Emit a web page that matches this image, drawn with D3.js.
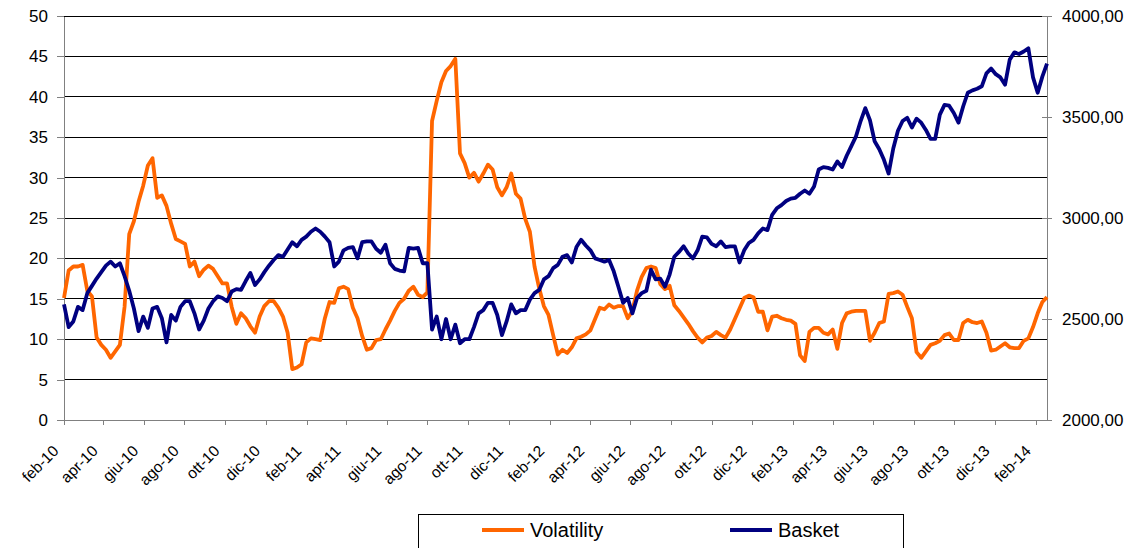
<!DOCTYPE html>
<html>
<head>
<meta charset="utf-8">
<script src="https://cdn.jsdelivr.net/npm/d3@7"></script>
<style>
  html, body { margin: 0; padding: 0; background: #fff; }
  svg { display: block; font-family: "Liberation Sans", Arial, sans-serif; }
  .axis path, .axis line { stroke: #808080; }
  .axis text { fill: #000; }
</style>
</head>
<body>
<svg id="chart" width="1138" height="548"></svg>
<script>
// weekly observations, first one on 1 feb 2010
const startDate = new Date(2010, 1, 1);
const monthNames = ["gen", "feb", "mar", "apr", "mag", "giu", "lug", "ago", "set", "ott", "nov", "dic"];
const volTicks = [0, 5, 10, 15, 20, 25, 30, 35, 40, 45, 50];
const basketTicks = [2000, 2500, 3000, 3500, 4000];
const seriesNames = ["Volatility", "Basket"];

const volatility = [
  15.1, 18.5, 19, 19, 19.2, 16, 15.3, 10.2, 9.3, 8.7,
  7.7, 8.5, 9.3, 14, 23, 24.6, 27, 29, 31.5, 32.4,
  27.5, 27.8, 26.5, 24.3, 22.4, 22.1, 21.8, 19, 19.6, 17.8,
  18.6, 19.1, 18.7, 17.8, 16.9, 16.9, 14, 11.9, 13.2, 12.6,
  11.6, 10.8, 12.8, 14.1, 14.7, 14.7, 13.9, 12.8, 10.8, 6.3,
  6.5, 6.9, 9.6, 10.1, 10, 9.9, 12.6, 14.6, 14.5, 16.3,
  16.5, 16.2, 13.9, 12.6, 10.4, 8.7, 8.9, 9.9, 10, 11.2,
  12.3, 13.5, 14.5, 15, 16, 16.5, 15.5, 15.2, 15.8, 37,
  39.5, 41.8, 43.2, 43.8, 44.7, 33, 31.8, 30, 30.6, 29.5,
  30.5, 31.6, 31, 28.8, 27.8, 28.8, 30.5, 28, 27.4, 24.9,
  23.3, 19, 16.3, 14.1, 13, 10.5, 8.1, 8.7, 8.3, 9,
  10.1, 10.3, 10.6, 11.1, 12.5, 13.9, 13.7, 14.3, 13.9, 14.1,
  14.1, 12.6, 13.5, 16, 17.7, 18.8, 19, 18.8, 16.8, 16.2,
  16.6, 14.2, 13.5, 12.7, 11.9, 11, 10.2, 9.6, 10.2, 10.4,
  10.9, 10.5, 10.2, 11.2, 12.5, 13.8, 15.1, 15.4, 15.2, 13.4,
  13.4, 11.1, 12.8, 12.9, 12.6, 12.4, 12.3, 11.9, 8, 7.3,
  10.9, 11.4, 11.4, 10.8, 10.6, 11.2, 8.8, 12, 13.2, 13.4,
  13.5, 13.5, 13.5, 9.8, 10.8, 12, 12.2, 15.6, 15.7, 15.9,
  15.5, 14, 12.6, 8.4, 7.7, 8.5, 9.3, 9.5, 9.8, 10.5,
  10.7, 9.9, 9.9, 12, 12.4, 12.1, 12, 12.2, 10.8, 8.6,
  8.7, 9.1, 9.5, 9, 8.9, 8.9, 9.8, 10.1, 11.5, 13.2,
  14.6, 15.2
];

const basket = [
  2572, 2460, 2488, 2560, 2544, 2628, 2664, 2700, 2732, 2764,
  2784, 2760, 2776, 2712, 2640, 2552, 2440, 2512, 2456, 2552,
  2560, 2504, 2384, 2520, 2492, 2560, 2588, 2588, 2528, 2448,
  2492, 2552, 2588, 2612, 2604, 2588, 2636, 2648, 2644, 2688,
  2728, 2668, 2696, 2732, 2764, 2792, 2816, 2808, 2844, 2880,
  2860, 2892, 2908, 2932, 2948, 2932, 2908, 2880, 2760, 2784,
  2840, 2852, 2856, 2800, 2880, 2884, 2884, 2848, 2828, 2868,
  2776, 2748, 2740, 2736, 2852, 2848, 2852, 2776, 2776, 2448,
  2512, 2400, 2500, 2400, 2472, 2380, 2400, 2400, 2460, 2528,
  2544, 2580, 2580, 2520, 2420, 2488, 2572, 2528, 2544, 2544,
  2596, 2628, 2644, 2696, 2712, 2752, 2768, 2808, 2816, 2780,
  2856, 2892, 2864, 2840, 2800, 2792, 2784, 2792, 2736, 2660,
  2580, 2604, 2528, 2604, 2628, 2640, 2744, 2696, 2700, 2660,
  2720, 2808, 2832, 2860, 2824, 2800, 2840, 2908, 2904, 2872,
  2860, 2884, 2856, 2860, 2860, 2780, 2840, 2876, 2892, 2924,
  2948, 2940, 3016, 3048, 3064, 3084, 3096, 3100, 3120, 3136,
  3120, 3156, 3240, 3252, 3248, 3240, 3280, 3252, 3308, 3356,
  3404, 3480, 3544, 3484, 3380, 3340, 3288, 3220, 3344, 3432,
  3480, 3496, 3448, 3492, 3472, 3436, 3392, 3392, 3512, 3560,
  3556, 3520, 3472, 3552, 3620, 3632, 3640, 3652, 3716, 3740,
  3712, 3696, 3660, 3784, 3820, 3812, 3824, 3840, 3696, 3620,
  3700, 3764
];

const dates = volatility.map((d, i) => d3.timeDay.offset(startDate, 7 * i));

const svg = d3.select("#chart");
const plot = { left: 64, right: 1047, top: 16, bottom: 420 };

const x = d3.scaleTime().domain([dates[0], dates[dates.length - 1]]).range([plot.left, plot.right]);
const yVol = d3.scaleLinear().domain([0, 50]).range([plot.bottom, plot.top]);
const yBasket = d3.scaleLinear().domain([2000, 4000]).range([plot.bottom, plot.top]);

const fmtDate = d => monthNames[d.getMonth()] + "-" + String(d.getFullYear()).slice(2);
const fmtBasket = d => d.toFixed(2).replace(".", ",");

// horizontal gridlines
svg.append("g")
  .selectAll("line")
  .data(volTicks.slice(1))
  .join("line")
  .attr("x1", plot.left).attr("x2", plot.right)
  .attr("y1", d => yVol(d)).attr("y2", d => yVol(d))
  .attr("stroke", "#000")
  .attr("stroke-width", 1)
  .attr("shape-rendering", "crispEdges");

// left axis
svg.append("g")
  .attr("class", "axis axis-left")
  .attr("transform", `translate(${plot.left},0)`)
  .call(d3.axisLeft(yVol).tickValues(volTicks).tickSize(7).tickSizeOuter(0).tickPadding(9))
  .call(g => g.selectAll("text").attr("font-size", 17))
  .call(g => g.selectAll("path, line").attr("shape-rendering", "crispEdges"));

// right axis (ticks cross the line)
const rightAxis = svg.append("g")
  .attr("class", "axis axis-right")
  .attr("transform", `translate(${plot.right},0)`)
  .call(d3.axisRight(yBasket).tickValues(basketTicks).tickFormat(fmtBasket).tickSize(5).tickSizeOuter(0).tickPadding(10))
  .call(g => g.selectAll("text").attr("font-size", 17))
  .call(g => g.selectAll("path, line").attr("shape-rendering", "crispEdges"));
rightAxis.selectAll(".tick line").attr("x1", -5);

// bottom axis
const xTicks = d3.timeMonth.range(new Date(2010, 1, 1), new Date(2014, 2, 1), 2);
svg.append("g")
  .attr("class", "axis axis-x")
  .attr("transform", `translate(0,${plot.bottom})`)
  .call(d3.axisBottom(x).tickValues(xTicks).tickFormat(fmtDate).tickSize(5).tickSizeOuter(0))
  .call(g => g.selectAll("path, line").attr("shape-rendering", "crispEdges"))
  .call(g => g.selectAll(".tick text")
    .attr("font-size", 15.5)
    .attr("text-anchor", "end")
    .attr("dy", 0)
    .attr("y", 0)
    .attr("transform", "translate(-5,32) rotate(-45)"));

// series
const volLine = d3.line()
  .x((d, i) => x(dates[i]))
  .y(d => yVol(d));
const basketLine = d3.line()
  .x((d, i) => x(dates[i]))
  .y(d => yBasket(d));

svg.append("path")
  .datum(volatility)
  .attr("fill", "none")
  .attr("stroke", "#ff6600")
  .attr("stroke-width", 3.8)
  .attr("stroke-linejoin", "round")
  .attr("d", volLine);

svg.append("path")
  .datum(basket)
  .attr("fill", "none")
  .attr("stroke", "#000080")
  .attr("stroke-width", 3.8)
  .attr("stroke-linejoin", "round")
  .attr("d", basketLine);

// legend
const legend = svg.append("g").attr("transform", "translate(418,514)");
legend.append("rect")
  .attr("x", 0.5).attr("y", 0.5)
  .attr("width", 485).attr("height", 50)
  .attr("fill", "#fff")
  .attr("stroke", "#000");

const legendItems = [
  { name: seriesNames[0], color: "#ff6600", x: 64 },
  { name: seriesNames[1], color: "#000080", x: 312 }
];
const item = legend.selectAll("g.item")
  .data(legendItems)
  .join("g")
  .attr("class", "item")
  .attr("transform", d => `translate(${d.x},16)`);
item.append("line")
  .attr("x1", 0).attr("x2", 42)
  .attr("stroke", d => d.color)
  .attr("stroke-width", 4);
item.append("text")
  .attr("x", 48)
  .attr("y", 7)
  .attr("font-size", 20)
  .text(d => d.name);
</script>
</body>
</html>
